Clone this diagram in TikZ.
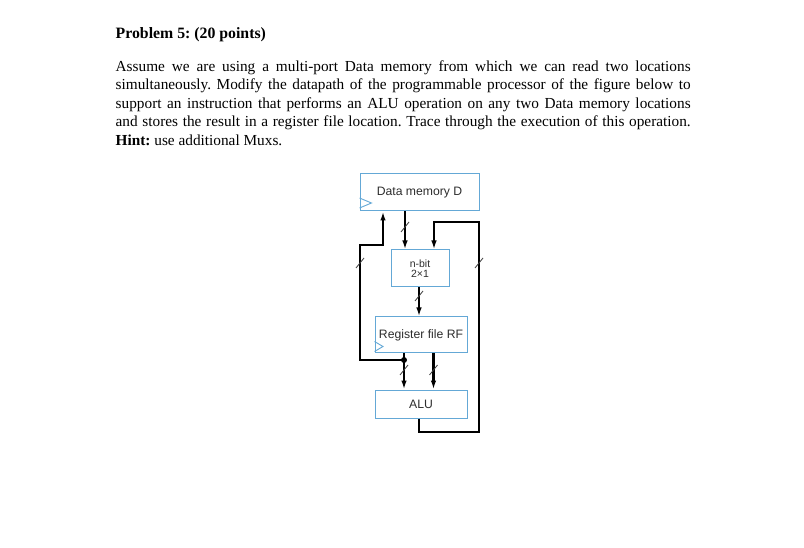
\documentclass[tikz,border=0pt]{standalone}
\usepackage{fontspec}
\setmainfont{Liberation Serif}
\newfontfamily\diag{Liberation Sans}
\usetikzlibrary{arrows.meta,calc}
\definecolor{boxblue}{RGB}{100,168,214}
\definecolor{txtgray}{RGB}{45,45,45}
\begin{document}
\frenchspacing
\begin{tikzpicture}[x=1pt,y=-1pt,
  blk/.style={draw=boxblue,line width=1pt,inner sep=0pt,text=txtgray,font=\diag\fontsize{12.2}{14}\selectfont},
  bus/.style={line width=2.4pt,black},
  arr/.style={bus,-{Latex[length=9pt,width=5.5pt]}},
  slashmark/.style={line width=0.8pt,black!75},
  clk/.style={draw=boxblue,line width=0.9pt},
  txtline/.style={anchor=base west,inner sep=0pt,font=\fontsize{15.3}{18}\selectfont}
]
\useasboundingbox[fill=white] (0,0) rectangle (804,548);

% ---------- text ----------
\node[txtline,font=\fontsize{15.8}{18}\selectfont] (head) at (115.5,38.3) {\textbf{Problem 5: (20 points)}};
\node[txtline] (l1) at (115.5,71.7) {\makebox[575pt][s]{Assume we are using a multi-port Data memory from which we can read two locations}};
\node[txtline] (l2) at (115.5,90.0) {\makebox[575pt][s]{simultaneously. Modify the datapath of the programmable processor of the figure below to}};
\node[txtline] (l3) at (115.5,108.4) {\makebox[575pt][s]{support an instruction that performs an ALU operation on any two Data memory locations}};
\node[txtline] (l4) at (115.5,126.8) {\makebox[575pt][s]{and stores the result in a register file location. Trace through the execution of this operation.}};
\node[txtline] (l5) at (115.5,145.2) {\textbf{Hint:} use additional Muxs.};

% ---------- blocks ----------
\node[blk,minimum width=119pt,minimum height=37pt] (DM) at (419.5,192.5) {Data memory D};
\node[blk,minimum width=58pt,minimum height=37pt,align=center,font=\diag\fontsize{10.5}{10.5}\selectfont] (mux) at (420,268.5) {n-bit\\2×1};
\node[blk,minimum width=92pt,minimum height=36pt] (RF) at (421,335) {Register file RF};
\node[blk,minimum width=92pt,minimum height=28pt] (ALU) at (421,404) {ALU};

% clock triangles
\draw[clk] ($(DM.south west)+(0,-13.5)$) -- ++(12,5) -- ++(-12,5);
\draw[clk] ($(RF.south west)+(0,-12)$) -- ++(8.5,5) -- ++(-8.5,5);

% ---------- connectors ----------
\coordinate (xa) at (405,0);
\coordinate (xm) at (419,0);
\coordinate (xl) at (404,0);
\coordinate (xr) at (433.5,0);
\coordinate (lx) at (360,0);
\coordinate (up) at (383,245);
\coordinate (rb) at (419,0);
\coordinate (rc) at (479,432);
\coordinate (rt) at (434,222);
\coordinate (j) at (404,360);

\draw[arr] (DM.south -| xa) -- (mux.north -| xa);
\draw[arr] (mux.south -| xm) -- (RF.north -| xm);
\draw[arr] (RF.south -| xl) -- (ALU.north -| xl);
\draw[arr] (RF.south -| xr) -- (ALU.north -| xr);
\draw[arr] (j) -- (j -| lx) |- (up) -- (DM.south -| up);
\draw[arr] (ALU.south -| rb) |- (rc) |- (rt) -- (mux.north -| rt);
\fill (j) circle (3pt);

% bus-width marks
\foreach \p in {(405,227),(360,263),(479,263),(419,296),(404,370),(433.5,370)}
  \draw[slashmark] \p ++(-4,5) -- ++(8,-10);
\end{tikzpicture}
\end{document}
